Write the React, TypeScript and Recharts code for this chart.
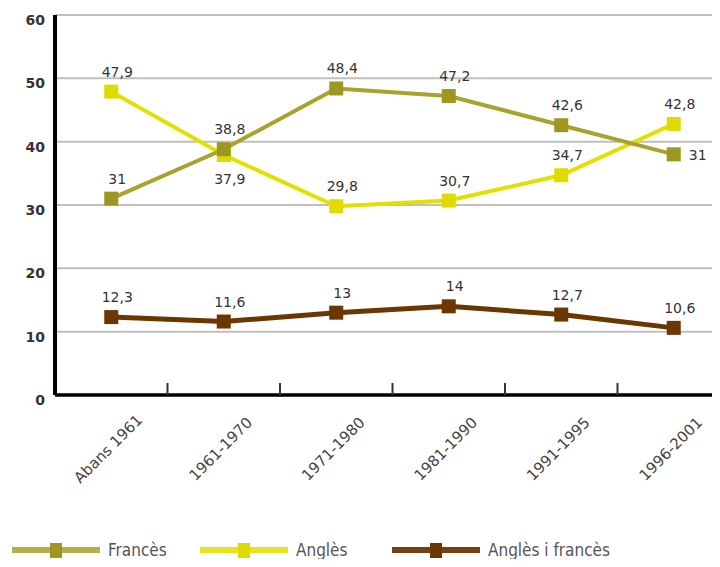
import { LineChart, Line, XAxis, YAxis, CartesianGrid, Legend } from "recharts";

const periods = ["Abans 1961", "1961-1970", "1971-1980", "1981-1990", "1991-1995", "1996-2001"];
const frances = [31, 38.8, 48.4, 47.2, 42.6, 38];
const angles = [47.9, 37.9, 29.8, 30.7, 34.7, 42.8];
const anglesFrances = [12.3, 11.6, 13, 14, 12.7, 10.6];
const yTicks = [0, 10, 20, 30, 40, 50, 60];
// the source prints "31" next to the last Francès point
const francesLastLabel = "31";

const data = periods.map((p, i) => ({
  period: p,
  frances: frances[i],
  angles: angles[i],
  anglesFrances: anglesFrances[i],
}));

const CHART_W = 730;
const CHART_H = 567;
const MARGIN = { top: 15, right: 0, left: 0, bottom: 0 };
const Y_W = 55;
const BAND = (CHART_W - MARGIN.left - MARGIN.right - Y_W) / periods.length;
const FONT = "'DejaVu Sans', Verdana, sans-serif";
const LEGEND_FONT = "'Liberation Sans Narrow', 'DejaVu Sans Condensed', 'DejaVu Sans', sans-serif";

const series = [
  { key: "angles", name: "Anglès", line: "#e2e000", marker: "#dedb00", legendLine: "#e6e420", width: 4 },
  { key: "frances", name: "Francès", line: "#a9a32e", marker: "#9d9722", legendLine: "#b3ae48", width: 4 },
  { key: "anglesFrances", name: "Anglès i francès", line: "#6b3700", marker: "#6b3700", legendLine: "#73420f", width: 5 },
];

const fmt = (v: number) => String(v).replace(".", ",");

function makeLabel(key: string) {
  return (props: any) => {
    const { x, y, value, index } = props;
    let tx = x + 6;
    let ty = y - 15;
    let anchor: "middle" | "start" = "middle";
    let text = fmt(value);
    if (key === "angles" && index === 1) ty = y + 29;
    if (key === "frances" && index === 5) {
      tx = x + 15;
      ty = y + 6;
      anchor = "start";
      text = francesLastLabel;
    }
    return (
      <text x={tx} y={ty} textAnchor={anchor} fontSize={14} fontFamily={FONT} fill="#333">
        {text}
      </text>
    );
  };
}

function makeDot(color: string) {
  return (props: any) => {
    const { cx, cy, index } = props;
    return <rect key={index} x={cx - 7} y={cy - 7} width={14} height={14} fill={color} />;
  };
}

function XTick(props: any) {
  const { x, y, payload, index } = props;
  return (
    <g transform={`translate(${x},${y})`}>
      {index < periods.length - 1 && (
        <line x1={BAND / 2} x2={BAND / 2} y1={-12} y2={0} stroke="#333" strokeWidth={2} />
      )}
      <text
        transform="translate(-3,54) rotate(-45)"
        textAnchor="middle"
        dominantBaseline="central"
        fontSize={15}
        fontFamily={FONT}
        fill="#444"
      >
        {payload.value}
      </text>
    </g>
  );
}

function LegendContent() {
  const order = [series[1], series[0], series[2]];
  const starts = [12, 200, 392];
  return (
    <svg width={720} height={30} style={{ overflow: "visible", display: "block" }}>
      {order.map((s, i) => {
        const x = starts[i];
        return (
          <g key={s.key}>
            <line x1={x} x2={x + 88} y1={13} y2={13} stroke={s.legendLine} strokeWidth={6} />
            <rect x={x + 38} y={6} width={12} height={15} fill={s.marker} />
            <text x={x + 96} y={19} fontSize={17} fontFamily={LEGEND_FONT} fill="#555">
              {s.name}
            </text>
          </g>
        );
      })}
    </svg>
  );
}

export default function App() {
  return (
    <div style={{ margin: -8, width: 720, height: 567, overflow: "hidden", position: "relative", background: "#fff" }}>
      <LineChart width={CHART_W} height={CHART_H} data={data} margin={MARGIN}>
        <CartesianGrid horizontal vertical={false} stroke="#bfbfbf" strokeWidth={2} />
        <XAxis
          dataKey="period"
          scale="band"
          height={142}
          interval={0}
          tickLine={false}
          tickSize={0}
          tickMargin={0}
          axisLine={{ stroke: "#000", strokeWidth: 3.5 }}
          tick={<XTick />}
        />
        <YAxis
          width={Y_W}
          domain={[0, 60]}
          ticks={yTicks}
          interval={0}
          tickLine={false}
          tickSize={0}
          tickMargin={10}
          axisLine={{ stroke: "#000", strokeWidth: 4 }}
          tick={{ fontSize: 14, fontFamily: FONT, fill: "#333", fontWeight: "bold", dy: 5 }}
        />
        <Legend verticalAlign="bottom" height={30} content={<LegendContent />} />
        {series.map((s) => (
          <Line
            key={s.key}
            type="linear"
            dataKey={s.key}
            name={s.name}
            stroke={s.line}
            strokeWidth={s.width}
            dot={makeDot(s.marker)}
            activeDot={false}
            label={makeLabel(s.key)}
            isAnimationActive={false}
          />
        ))}
      </LineChart>
    </div>
  );
}
